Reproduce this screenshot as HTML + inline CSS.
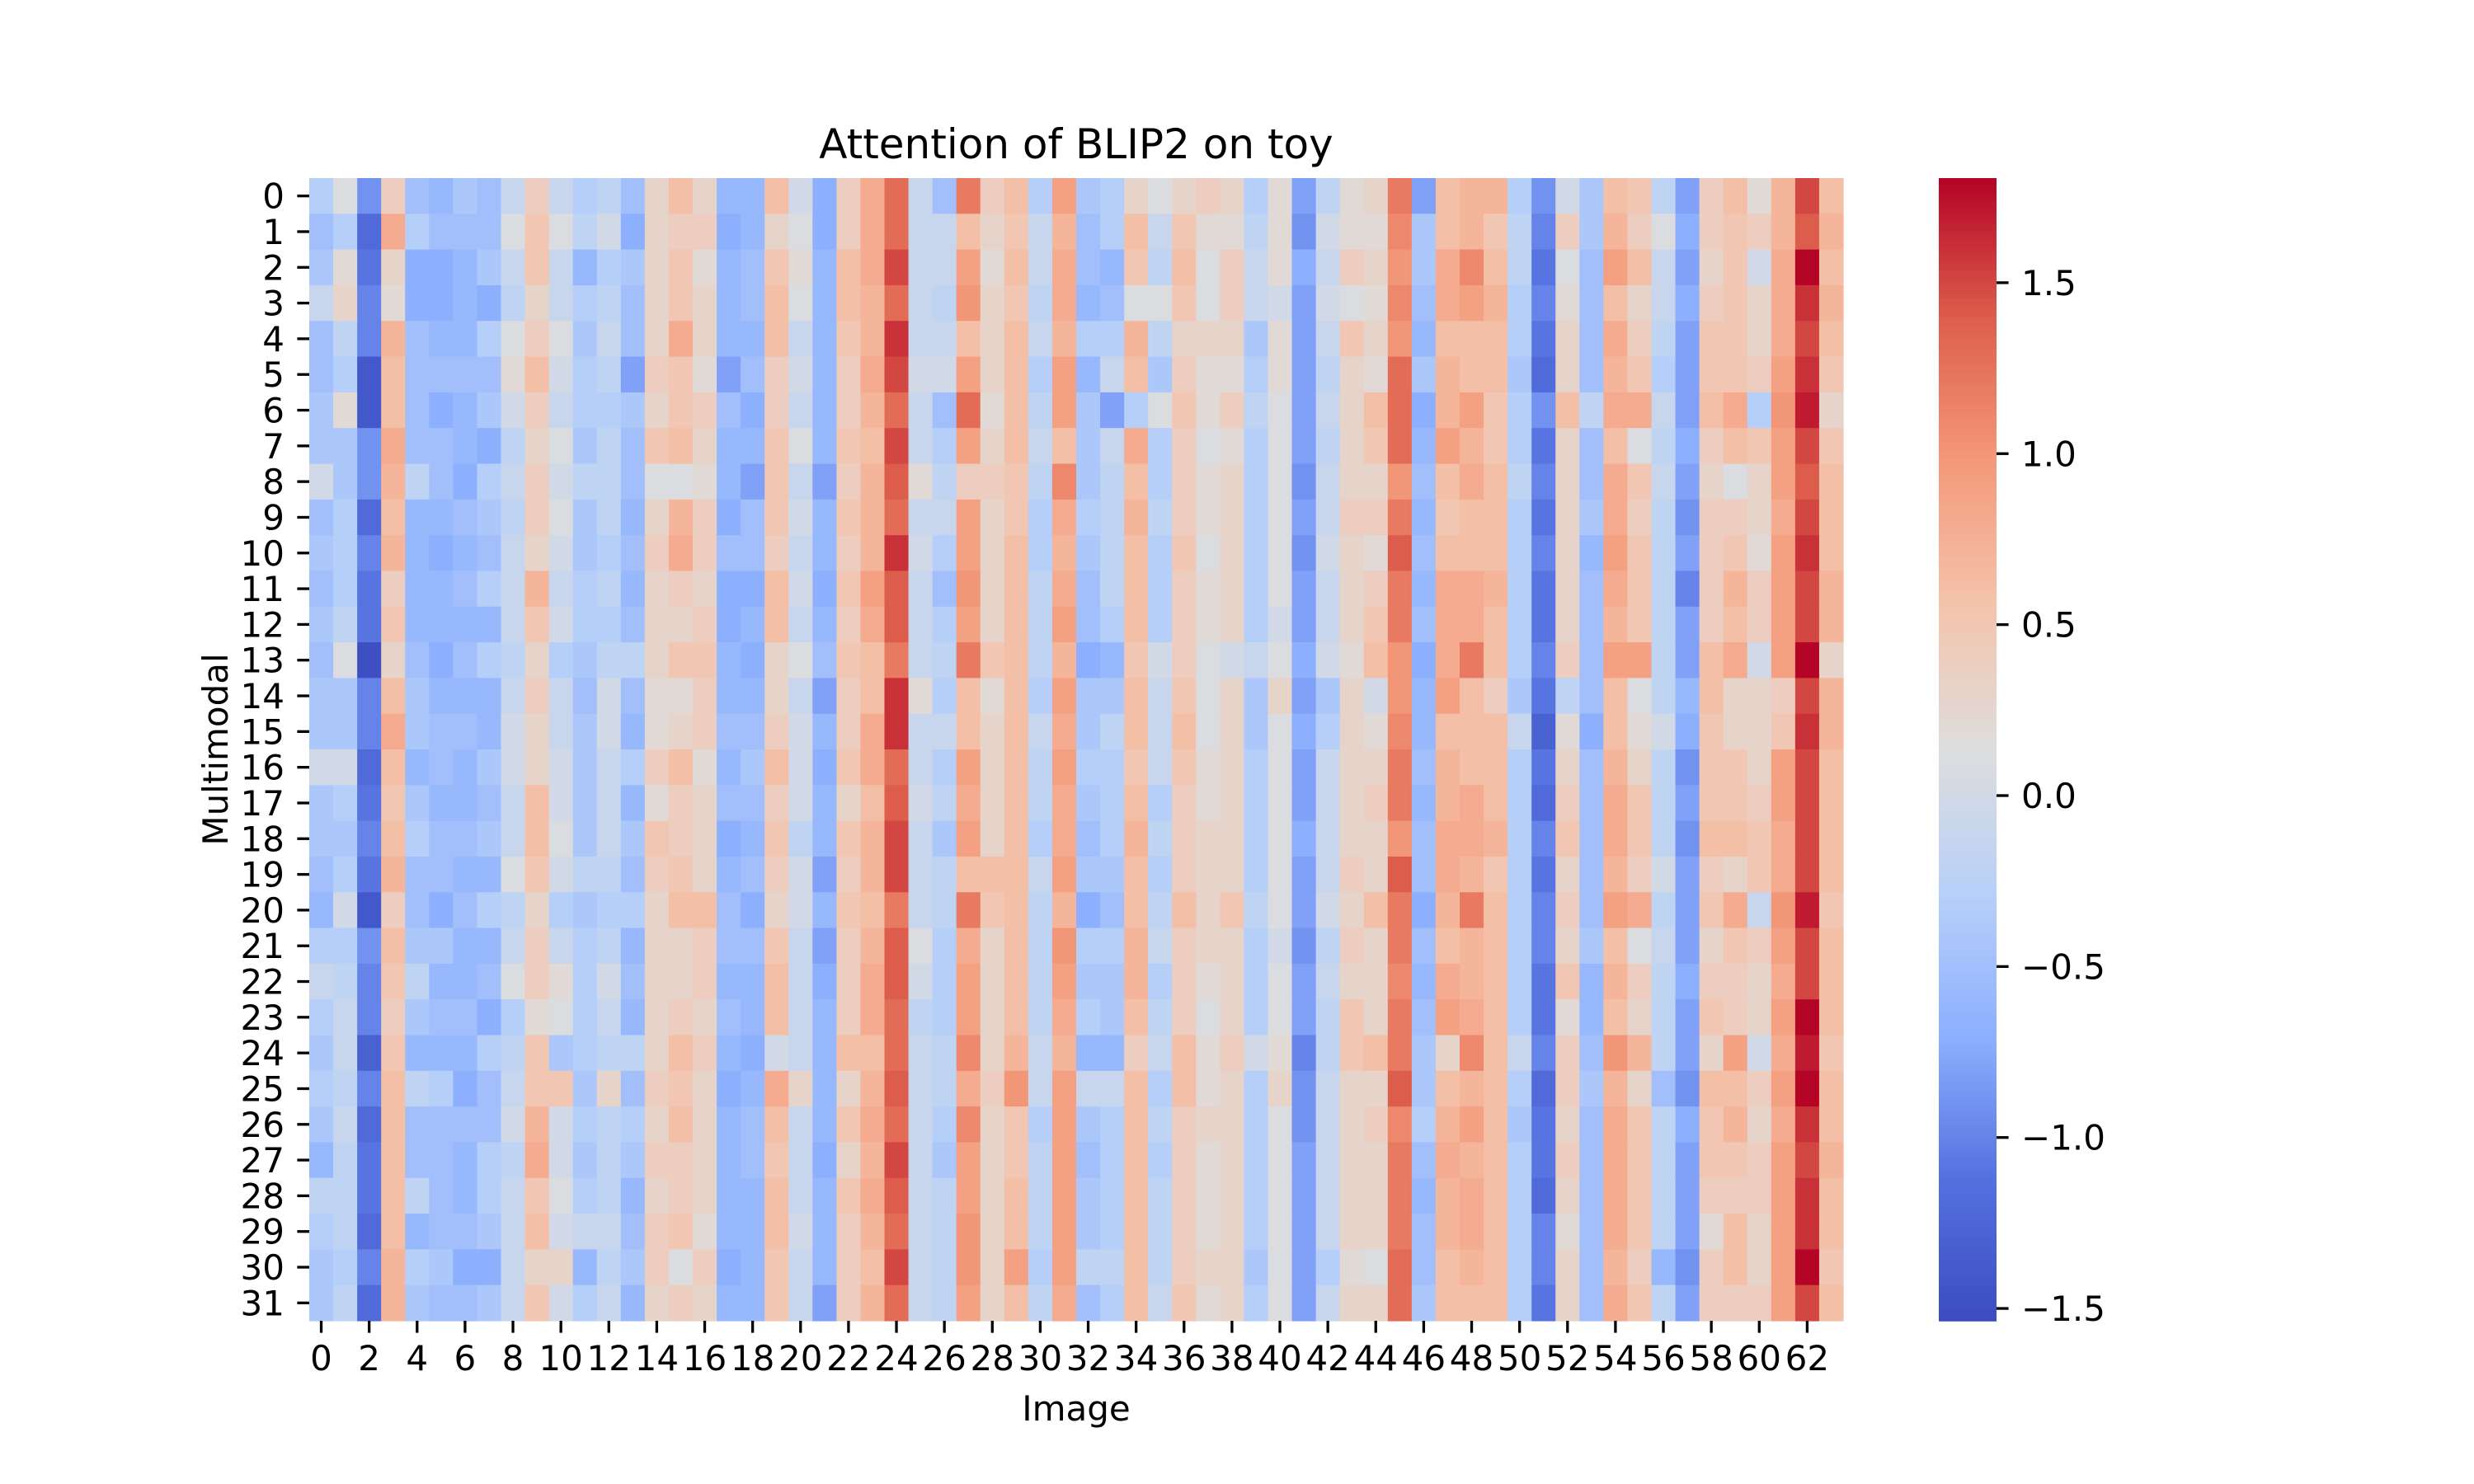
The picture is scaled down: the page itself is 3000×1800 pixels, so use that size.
<!DOCTYPE html>
<html><head><meta charset="utf-8"><style>
html,body{margin:0;padding:0;background:#fff;}
svg{display:block;font-family:"DejaVu Sans","Liberation Sans",sans-serif;}
</style></head><body>
<svg id="chart" width="3000" height="1800" viewBox="0 0 3000 1800" xmlns="http://www.w3.org/2000/svg">
<rect width="3000" height="1800" fill="#fff"/>
<text x="1305" y="192" font-size="50" text-anchor="middle" fill="#000">Attention of BLIP2 on toy</text>
<g id="cells"></g>
<g id="xticks"></g>
<g id="yticks"></g>
<text x="1305" y="1723" font-size="42" text-anchor="middle">Image</text>
<text x="0" y="0" font-size="42" text-anchor="middle" transform="translate(276,909) rotate(-90)">Multimodal</text>
<g id="cbar"></g>
</svg>
<script>
const rowLabels = Array.from({length:32},(_, i)=>String(i));
const xTickLabels = Array.from({length:32},(_, i)=>String(i*2));
const cbarTicks = [-1.5,-1.0,-0.5,0.0,0.5,1.0,1.5];
const vmin = -1.536, vmax = 1.806;
const values = [
[-0.3,0.1,-0.9,0.4,-0.5,-0.6,-0.4,-0.5,-0.1,0.4,-0.1,-0.3,-0.2,-0.5,0.3,0.6,0.3,-0.6,-0.6,0.6,0.0,-0.7,0.4,0.8,1.3,-0.1,-0.5,1.2,0.4,0.6,-0.3,0.9,-0.4,-0.3,0.3,0.1,0.3,0.4,0.3,-0.3,0.2,-0.8,-0.2,0.2,0.3,1.2,-0.8,0.6,0.7,0.7,-0.3,-0.9,0.0,-0.4,0.6,0.5,-0.2,-0.8,0.4,0.6,0.2,0.7,1.5,0.6],
[-0.5,-0.3,-1.2,0.8,-0.3,-0.5,-0.5,-0.5,0.1,0.5,0.1,-0.2,0.0,-0.7,0.3,0.4,0.4,-0.7,-0.6,0.3,0.1,-0.7,0.4,0.8,1.3,-0.1,-0.1,0.6,0.3,0.5,-0.1,0.7,-0.5,-0.3,0.6,-0.1,0.5,0.2,0.2,-0.2,0.2,-0.9,0.0,0.2,0.2,1.1,-0.4,0.6,0.7,0.5,-0.2,-1.0,0.4,-0.4,0.7,0.4,0.1,-0.7,0.4,0.5,0.4,0.7,1.4,0.7],
[-0.4,0.2,-1.1,0.3,-0.7,-0.7,-0.6,-0.4,-0.1,0.5,-0.1,-0.6,-0.3,-0.4,0.3,0.5,0.2,-0.6,-0.5,0.5,0.2,-0.6,0.6,0.8,1.5,-0.1,-0.1,0.9,0.2,0.6,-0.1,0.8,-0.5,-0.6,0.5,-0.2,0.6,0.1,0.4,-0.1,0.2,-0.7,-0.1,0.4,0.3,1.0,-0.4,0.8,1.1,0.6,-0.2,-1.1,0.1,-0.5,0.9,0.6,-0.1,-0.8,0.3,0.5,0.0,0.8,1.8,0.6],
[-0.1,0.3,-1.0,0.2,-0.7,-0.7,-0.6,-0.7,-0.2,0.3,-0.1,-0.3,-0.2,-0.5,0.3,0.5,0.3,-0.6,-0.5,0.6,0.1,-0.6,0.6,0.7,1.3,-0.1,-0.2,1.0,0.3,0.5,-0.2,0.8,-0.6,-0.5,0.1,0.1,0.5,0.1,0.4,-0.1,0.0,-0.8,0.0,0.1,0.2,1.1,-0.5,0.8,0.9,0.7,-0.3,-1.0,0.2,-0.5,0.6,0.3,-0.1,-0.7,0.4,0.5,0.3,0.8,1.6,0.7],
[-0.5,-0.2,-1.0,0.7,-0.5,-0.6,-0.6,-0.3,0.1,0.4,0.1,-0.4,-0.1,-0.5,0.3,0.8,0.3,-0.6,-0.6,0.6,-0.1,-0.6,0.5,0.7,1.6,-0.1,-0.1,0.6,0.3,0.6,-0.1,0.7,-0.3,-0.3,0.7,-0.2,0.3,0.3,0.3,-0.4,0.2,-0.8,-0.1,0.5,0.3,1.0,-0.6,0.6,0.6,0.6,-0.3,-1.1,0.3,-0.5,0.8,0.4,-0.2,-0.8,0.5,0.5,0.3,0.8,1.5,0.6],
[-0.5,-0.3,-1.4,0.6,-0.5,-0.5,-0.5,-0.5,0.2,0.6,0.0,-0.3,-0.2,-0.8,0.4,0.5,0.2,-0.8,-0.5,0.4,0.0,-0.6,0.4,0.8,1.5,0.0,0.0,0.9,0.3,0.6,-0.3,0.9,-0.6,-0.1,0.6,-0.4,0.4,0.2,0.2,-0.3,0.2,-0.8,-0.2,0.3,0.2,1.3,-0.4,0.7,0.6,0.6,-0.4,-1.2,0.3,-0.5,0.7,0.5,-0.3,-0.8,0.5,0.5,0.4,0.9,1.6,0.5],
[-0.4,0.2,-1.4,0.6,-0.5,-0.7,-0.6,-0.4,0.0,0.4,-0.1,-0.3,-0.3,-0.4,0.3,0.5,0.4,-0.5,-0.7,0.4,-0.1,-0.6,0.4,0.7,1.3,-0.1,-0.5,1.3,0.2,0.6,-0.2,0.9,-0.4,-0.8,-0.3,0.1,0.5,0.2,0.4,-0.2,0.1,-0.8,-0.1,0.3,0.6,1.3,-0.7,0.7,0.9,0.5,-0.3,-0.9,0.6,-0.2,0.8,0.8,-0.1,-0.8,0.6,0.8,-0.3,1.0,1.7,0.3],
[-0.4,-0.4,-0.9,0.8,-0.5,-0.5,-0.6,-0.7,-0.2,0.3,0.1,-0.4,-0.2,-0.5,0.5,0.6,0.3,-0.6,-0.6,0.5,0.1,-0.6,0.5,0.6,1.5,-0.1,-0.3,0.9,0.3,0.6,-0.1,0.6,-0.4,-0.1,0.8,-0.3,0.4,0.1,0.2,-0.3,0.1,-0.8,-0.2,0.3,0.5,1.3,-0.6,0.9,0.7,0.5,-0.3,-1.1,0.3,-0.5,0.6,0.1,-0.2,-0.7,0.4,0.6,0.5,0.9,1.5,0.5],
[0.0,-0.4,-0.9,0.7,-0.2,-0.5,-0.7,-0.3,-0.1,0.4,0.0,-0.2,-0.2,-0.5,0.1,0.1,0.2,-0.6,-0.8,0.5,-0.1,-0.8,0.4,0.7,1.4,0.2,-0.2,0.4,0.4,0.5,-0.2,1.1,-0.4,-0.2,0.6,-0.3,0.4,0.2,0.3,-0.3,0.1,-0.9,-0.1,0.3,0.3,1.0,-0.5,0.6,0.8,0.6,-0.2,-1.0,0.3,-0.5,0.8,0.5,-0.1,-0.8,0.3,0.1,0.3,0.9,1.4,0.6],
[-0.5,-0.3,-1.2,0.6,-0.6,-0.6,-0.5,-0.4,-0.2,0.4,0.1,-0.4,-0.2,-0.6,0.3,0.7,0.4,-0.7,-0.5,0.5,0.0,-0.6,0.5,0.7,1.3,-0.1,-0.1,0.9,0.3,0.5,-0.3,0.8,-0.3,-0.2,0.7,-0.2,0.4,0.2,0.3,-0.3,0.1,-0.8,-0.1,0.4,0.4,1.2,-0.6,0.5,0.6,0.6,-0.3,-1.1,0.3,-0.4,0.8,0.4,-0.2,-0.9,0.4,0.4,0.3,0.8,1.5,0.6],
[-0.4,-0.3,-1.0,0.7,-0.6,-0.7,-0.6,-0.5,-0.1,0.3,0.0,-0.4,-0.3,-0.5,0.4,0.8,0.4,-0.5,-0.5,0.4,-0.1,-0.6,0.4,0.7,1.6,0.0,-0.3,0.9,0.3,0.6,-0.3,0.7,-0.4,-0.2,0.6,-0.3,0.5,0.1,0.3,-0.3,0.1,-0.9,0.0,0.3,0.2,1.4,-0.5,0.6,0.6,0.6,-0.3,-1.0,0.3,-0.6,0.9,0.5,-0.2,-0.8,0.4,0.5,0.2,0.9,1.6,0.6],
[-0.5,-0.3,-1.1,0.4,-0.6,-0.6,-0.5,-0.3,-0.1,0.7,-0.1,-0.3,-0.2,-0.6,0.3,0.4,0.3,-0.7,-0.7,0.6,0.0,-0.7,0.5,0.9,1.4,-0.1,-0.5,1.0,0.3,0.6,-0.2,0.8,-0.5,-0.2,0.6,-0.3,0.4,0.2,0.3,-0.3,0.1,-0.8,-0.1,0.3,0.4,1.2,-0.6,0.8,0.8,0.7,-0.3,-1.1,0.3,-0.5,0.8,0.5,-0.2,-1.0,0.4,0.7,0.4,0.9,1.5,0.7],
[-0.4,-0.2,-1.1,0.5,-0.6,-0.6,-0.6,-0.6,-0.1,0.5,0.0,-0.3,-0.3,-0.5,0.3,0.3,0.4,-0.7,-0.6,0.6,-0.1,-0.6,0.4,0.8,1.4,-0.1,-0.3,0.9,0.3,0.6,-0.2,0.9,-0.5,-0.3,0.6,-0.3,0.4,0.2,0.3,-0.3,0.0,-0.8,-0.1,0.3,0.5,1.2,-0.5,0.8,0.8,0.6,-0.3,-1.1,0.3,-0.5,0.7,0.5,-0.2,-0.8,0.4,0.6,0.4,0.9,1.5,0.7],
[-0.5,0.1,-1.5,0.3,-0.5,-0.7,-0.5,-0.3,-0.2,0.3,-0.3,-0.4,-0.2,-0.2,0.3,0.5,0.5,-0.6,-0.7,0.3,0.1,-0.5,0.5,0.6,1.2,-0.1,-0.2,1.2,0.5,0.6,-0.2,0.7,-0.7,-0.6,0.5,0.0,0.4,0.1,0.0,-0.1,0.1,-0.7,0.0,0.2,0.6,1.0,-0.7,0.8,1.2,0.6,-0.3,-1.0,0.4,-0.5,0.9,0.9,-0.2,-0.8,0.6,0.8,0.0,0.9,1.8,0.3],
[-0.4,-0.4,-1.0,0.6,-0.4,-0.6,-0.6,-0.6,-0.1,0.4,-0.1,-0.5,0.0,-0.5,0.2,0.2,0.4,-0.6,-0.6,0.3,-0.1,-0.8,0.4,0.6,1.6,0.2,-0.3,0.6,0.2,0.6,-0.3,0.9,-0.4,-0.4,0.6,-0.1,0.5,0.1,0.3,-0.4,0.3,-0.8,-0.4,0.3,0.0,1.0,-0.6,0.9,0.6,0.4,-0.4,-1.1,-0.2,-0.5,0.6,0.1,-0.2,-0.6,0.6,0.3,0.3,0.4,1.5,0.7],
[-0.4,-0.4,-1.0,0.8,-0.4,-0.5,-0.5,-0.6,0.0,0.3,-0.1,-0.4,0.0,-0.6,0.2,0.3,0.4,-0.5,-0.5,0.4,0.0,-0.6,0.4,0.8,1.6,-0.1,-0.1,0.6,0.3,0.6,-0.1,0.8,-0.4,-0.2,0.6,-0.1,0.6,0.1,0.3,-0.4,0.1,-0.7,-0.3,0.3,0.2,1.1,-0.6,0.6,0.6,0.6,-0.1,-1.3,0.2,-0.7,0.6,0.2,0.0,-0.7,0.5,0.3,0.3,0.5,1.6,0.7],
[0.0,0.0,-1.2,0.6,-0.6,-0.5,-0.6,-0.4,0.0,0.3,0.0,-0.4,-0.1,-0.3,0.4,0.6,0.2,-0.6,-0.4,0.6,0.0,-0.7,0.5,0.8,1.3,-0.1,-0.3,0.9,0.3,0.6,-0.2,0.9,-0.3,-0.3,0.5,-0.1,0.5,0.2,0.3,-0.3,0.1,-0.8,-0.1,0.3,0.3,1.2,-0.5,0.7,0.6,0.6,-0.3,-1.1,0.3,-0.5,0.7,0.3,-0.2,-0.9,0.5,0.5,0.3,0.9,1.5,0.6],
[-0.4,-0.3,-1.1,0.5,-0.4,-0.6,-0.6,-0.5,-0.1,0.6,0.0,-0.4,-0.1,-0.6,0.2,0.4,0.3,-0.5,-0.5,0.4,0.0,-0.6,0.3,0.6,1.4,0.0,-0.2,0.8,0.3,0.6,-0.2,0.8,-0.4,-0.3,0.6,-0.3,0.4,0.2,0.3,-0.3,0.1,-0.8,-0.1,0.3,0.4,1.2,-0.6,0.7,0.8,0.6,-0.3,-1.2,0.4,-0.5,0.8,0.5,-0.2,-0.8,0.5,0.5,0.4,0.9,1.5,0.6],
[-0.4,-0.4,-1.0,0.6,-0.3,-0.5,-0.5,-0.4,-0.1,0.6,0.1,-0.4,-0.1,-0.4,0.5,0.4,0.3,-0.7,-0.6,0.5,-0.2,-0.6,0.5,0.7,1.5,-0.1,-0.4,0.9,0.3,0.6,-0.3,0.8,-0.5,-0.3,0.7,-0.2,0.4,0.3,0.3,-0.3,0.1,-0.7,-0.1,0.3,0.3,1.0,-0.5,0.8,0.8,0.7,-0.3,-1.0,0.5,-0.5,0.8,0.5,-0.2,-0.9,0.6,0.6,0.5,0.8,1.5,0.6],
[-0.5,-0.3,-1.1,0.7,-0.5,-0.5,-0.6,-0.6,0.1,0.5,0.0,-0.2,-0.2,-0.5,0.4,0.5,0.3,-0.6,-0.5,0.4,0.0,-0.8,0.4,0.7,1.5,-0.1,-0.2,0.6,0.6,0.6,-0.1,0.9,-0.4,-0.4,0.6,-0.3,0.4,0.3,0.3,-0.3,0.1,-0.8,-0.1,0.4,0.3,1.4,-0.5,0.8,0.7,0.5,-0.3,-1.1,0.3,-0.5,0.7,0.4,0.0,-0.8,0.4,0.3,0.5,0.8,1.5,0.6],
[-0.6,0.0,-1.4,0.4,-0.5,-0.7,-0.5,-0.3,-0.2,0.3,-0.3,-0.4,-0.3,-0.3,0.3,0.6,0.6,-0.5,-0.7,0.3,0.0,-0.6,0.5,0.6,1.2,-0.1,-0.2,1.2,0.5,0.6,-0.2,0.7,-0.7,-0.5,0.6,-0.2,0.6,0.3,0.5,-0.2,0.1,-0.8,0.0,0.3,0.6,1.2,-0.7,0.7,1.2,0.6,-0.3,-1.0,0.4,-0.5,0.9,0.8,-0.2,-0.8,0.5,0.8,-0.1,1.0,1.7,0.5],
[-0.3,-0.3,-0.9,0.6,-0.4,-0.4,-0.6,-0.6,-0.1,0.4,-0.1,-0.3,-0.2,-0.6,0.3,0.3,0.4,-0.5,-0.5,0.5,-0.1,-0.8,0.4,0.7,1.4,0.1,-0.3,0.8,0.3,0.6,-0.2,1.0,-0.3,-0.3,0.7,-0.1,0.4,0.3,0.3,-0.3,0.0,-0.9,-0.2,0.4,0.3,1.2,-0.5,0.6,0.7,0.6,-0.3,-1.0,0.3,-0.4,0.6,0.1,-0.1,-0.8,0.3,0.5,0.4,0.9,1.5,0.6],
[-0.1,-0.2,-1.0,0.5,-0.2,-0.6,-0.6,-0.5,0.1,0.4,0.2,-0.3,0.0,-0.5,0.3,0.3,0.4,-0.6,-0.6,0.6,-0.1,-0.7,0.4,0.8,1.4,0.0,-0.3,0.9,0.3,0.6,-0.2,0.9,-0.4,-0.4,0.7,-0.3,0.4,0.2,0.3,-0.3,0.1,-0.8,-0.1,0.3,0.3,1.1,-0.6,0.8,0.7,0.6,-0.3,-1.1,0.5,-0.6,0.7,0.4,-0.2,-0.7,0.4,0.4,0.3,0.8,1.5,0.6],
[-0.3,-0.1,-1.0,0.4,-0.4,-0.5,-0.5,-0.7,-0.3,0.2,0.1,-0.3,-0.1,-0.6,0.3,0.4,0.3,-0.5,-0.6,0.6,-0.1,-0.6,0.4,0.8,1.3,-0.2,-0.3,0.9,0.3,0.6,-0.2,0.8,-0.3,-0.4,0.6,-0.2,0.4,0.1,0.3,-0.3,0.1,-0.8,-0.2,0.5,0.3,1.2,-0.5,0.9,0.8,0.6,-0.3,-1.1,0.2,-0.6,0.6,0.3,-0.2,-0.8,0.5,0.4,0.3,0.9,1.8,0.6],
[-0.4,-0.1,-1.3,0.5,-0.6,-0.6,-0.6,-0.3,-0.2,0.5,-0.4,-0.3,-0.2,-0.2,0.3,0.6,0.4,-0.6,-0.7,0.0,-0.1,-0.6,0.6,0.6,1.3,-0.1,-0.2,1.1,0.3,0.7,-0.1,0.7,-0.6,-0.6,0.4,-0.1,0.6,0.2,0.4,0.0,0.2,-1.0,-0.2,0.5,0.6,1.2,-0.4,0.3,1.1,0.6,-0.1,-1.0,0.4,-0.5,1.0,0.7,-0.2,-0.8,0.3,0.9,0.0,0.8,1.7,0.5],
[-0.3,-0.2,-1.0,0.6,-0.2,-0.3,-0.7,-0.5,-0.1,0.5,0.5,-0.4,0.3,-0.5,0.4,0.5,0.3,-0.7,-0.6,0.8,0.3,-0.6,0.3,0.7,1.4,-0.1,-0.2,0.8,0.4,1.0,-0.1,0.9,-0.1,-0.1,0.6,-0.3,0.6,0.2,0.3,-0.3,0.3,-0.9,-0.1,0.3,0.3,1.4,-0.4,0.6,0.7,0.6,-0.3,-1.2,0.4,-0.4,0.7,0.3,-0.5,-0.9,0.6,0.6,0.4,0.9,1.8,0.6],
[-0.4,-0.1,-1.2,0.6,-0.5,-0.5,-0.5,-0.5,0.0,0.7,0.0,-0.3,-0.2,-0.3,0.3,0.6,0.3,-0.6,-0.5,0.6,-0.1,-0.6,0.5,0.8,1.3,-0.1,-0.3,1.1,0.3,0.5,-0.3,0.9,-0.4,-0.3,0.6,-0.2,0.4,0.3,0.3,-0.3,0.1,-0.9,-0.1,0.3,0.4,1.1,-0.3,0.7,0.9,0.6,-0.4,-1.1,0.3,-0.5,0.8,0.5,-0.2,-0.7,0.5,0.7,0.3,0.8,1.6,0.6],
[-0.6,-0.2,-1.1,0.6,-0.5,-0.5,-0.6,-0.3,-0.2,0.8,0.0,-0.4,-0.2,-0.4,0.4,0.4,0.3,-0.6,-0.5,0.5,-0.1,-0.7,0.3,0.7,1.5,-0.1,-0.4,0.9,0.3,0.5,-0.2,0.9,-0.5,-0.3,0.6,-0.3,0.4,0.2,0.3,-0.3,0.1,-0.8,-0.1,0.3,0.3,1.2,-0.5,0.8,0.7,0.6,-0.3,-1.1,0.4,-0.5,0.8,0.5,-0.2,-0.8,0.5,0.5,0.4,0.9,1.5,0.7],
[-0.2,-0.2,-1.1,0.6,-0.2,-0.5,-0.6,-0.3,-0.1,0.5,0.1,-0.3,-0.2,-0.6,0.3,0.4,0.3,-0.6,-0.6,0.6,-0.1,-0.6,0.5,0.8,1.4,-0.1,-0.2,0.9,0.3,0.6,-0.2,0.9,-0.4,-0.3,0.6,-0.2,0.4,0.2,0.3,-0.3,0.1,-0.8,-0.1,0.3,0.3,1.2,-0.6,0.7,0.8,0.6,-0.3,-1.2,0.3,-0.5,0.8,0.5,-0.2,-0.8,0.4,0.4,0.4,0.9,1.6,0.6],
[-0.3,-0.2,-1.2,0.6,-0.6,-0.5,-0.5,-0.4,-0.1,0.6,0.0,-0.1,-0.1,-0.5,0.4,0.5,0.2,-0.6,-0.6,0.6,0.0,-0.6,0.4,0.7,1.3,-0.1,-0.2,1.0,0.3,0.6,-0.2,0.9,-0.4,-0.3,0.6,-0.2,0.4,0.2,0.3,-0.3,0.1,-0.8,-0.1,0.3,0.3,1.2,-0.5,0.7,0.8,0.6,-0.3,-1.0,0.2,-0.5,0.8,0.5,-0.2,-0.8,0.2,0.6,0.3,0.9,1.6,0.6],
[-0.4,-0.3,-1.0,0.7,-0.3,-0.4,-0.7,-0.7,-0.1,0.3,0.3,-0.6,-0.2,-0.4,0.4,0.1,0.4,-0.7,-0.6,0.5,-0.1,-0.6,0.4,0.6,1.5,-0.1,-0.2,1.0,0.3,0.9,-0.3,0.9,-0.2,-0.2,0.6,-0.2,0.4,0.3,0.3,-0.4,0.1,-0.8,-0.3,0.2,0.1,1.3,-0.5,0.6,0.7,0.6,-0.3,-1.0,0.3,-0.5,0.7,0.4,-0.6,-0.9,0.4,0.6,0.3,0.9,1.8,0.5],
[-0.4,-0.2,-1.2,0.7,-0.4,-0.5,-0.5,-0.4,-0.1,0.5,0.0,-0.3,-0.1,-0.6,0.3,0.4,0.3,-0.6,-0.6,0.5,-0.1,-0.8,0.4,0.7,1.3,-0.1,-0.2,0.9,0.3,0.6,-0.2,0.8,-0.5,-0.3,0.6,-0.1,0.5,0.2,0.3,-0.3,0.1,-0.8,-0.1,0.3,0.3,1.3,-0.4,0.6,0.6,0.6,-0.3,-1.1,0.3,-0.5,0.8,0.5,-0.2,-0.8,0.4,0.4,0.4,0.9,1.5,0.6]
];
const NS = "http://www.w3.org/2000/svg";
const L = 375, R = 2235, T = 216, B = 1602;
const nRows = values.length, nCols = 64;
const cw = (R - L) / nCols, rh = (B - T) / nRows;
const xAt = c => L + c * cw;
const yAt = r => T + r * rh;
const stops = [[0,[59,76,192]],[0.125,[85,113,224]],[0.25,[141,176,254]],[0.375,[184,208,249]],[0.5,[221,221,221]],[0.625,[244,196,173]],[0.75,[244,154,123]],[0.875,[222,96,77]],[1,[180,4,38]]];
function cmap(v){
  let t = (v - vmin) / (vmax - vmin); t = Math.max(0, Math.min(1, t));
  for (let i = 1; i < stops.length; i++) {
    if (t <= stops[i][0]) {
      const a = stops[i-1], b = stops[i], f = (t - a[0]) / (b[0] - a[0]);
      const c = a[1].map((x, k) => Math.round(x + (b[1][k] - x) * f));
      return `rgb(${c[0]},${c[1]},${c[2]})`;
    }
  }
  return "rgb(180,4,38)";
}
function mk(tag, attrs, parent){ const e = document.createElementNS(NS, tag); for (const k in attrs) e.setAttribute(k, attrs[k]); parent.appendChild(e); return e; }
const cells = document.getElementById('cells');
values.forEach((row, r) => row.forEach((v, c) => {
  const e = mk('rect', {x: xAt(c).toFixed(2), y: yAt(r).toFixed(2), width: (cw + 0.6).toFixed(2), height: (rh + 0.6).toFixed(2), fill: cmap(v)}, cells);
  
  
}));
const xt = document.getElementById('xticks');
xTickLabels.forEach(lbl => {
  const c = +lbl, x = xAt(c + 0.5);
  const ln = mk('line', {x1: x, x2: x, y1: B, y2: B + 14.6, stroke: '#000', 'stroke-width': 3.3}, xt);
  
  
  const t = mk('text', {x: x, y: 1662, 'font-size': 42, 'text-anchor': 'middle'}, xt);
  t.textContent = lbl;
  
  
});
const yt = document.getElementById('yticks');
rowLabels.forEach((lbl, r) => {
  const y = yAt(r + 0.5);
  const ln = mk('line', {x1: L - 14.6, x2: L, y1: y, y2: y, stroke: '#000', 'stroke-width': 3.3}, yt);
  
  
  const t = mk('text', {x: 345, y: y + 15, 'font-size': 42, 'text-anchor': 'end'}, yt);
  t.textContent = lbl;
  
  
});
const cb = document.getElementById('cbar');
const CL = 2351, CR = 2421;
const cy = v => B - (v - vmin) / (vmax - vmin) * (B - T);
const N = 200;
for (let i = 0; i < N; i++) {
  const v0 = vmin + (vmax - vmin) * i / N, v1 = vmin + (vmax - vmin) * (i + 1) / N;
  const e = mk('rect', {x: CL, y: cy(v1).toFixed(2), width: CR - CL, height: (cy(v0) - cy(v1) + 0.8).toFixed(2), fill: cmap((v0 + v1) / 2)}, cb);
  
  
}
cbarTicks.forEach(v => {
  const y = cy(v);
  const ln = mk('line', {x1: CR, x2: CR + 14.6, y1: y, y2: y, stroke: '#000', 'stroke-width': 3.3}, cb);
  
  
  const t = mk('text', {x: 2451, y: y + 15, 'font-size': 42}, cb);
  t.textContent = (v < 0 ? '\u2212' : '') + Math.abs(v).toFixed(1);
  
  
});
</script>
</body></html>
